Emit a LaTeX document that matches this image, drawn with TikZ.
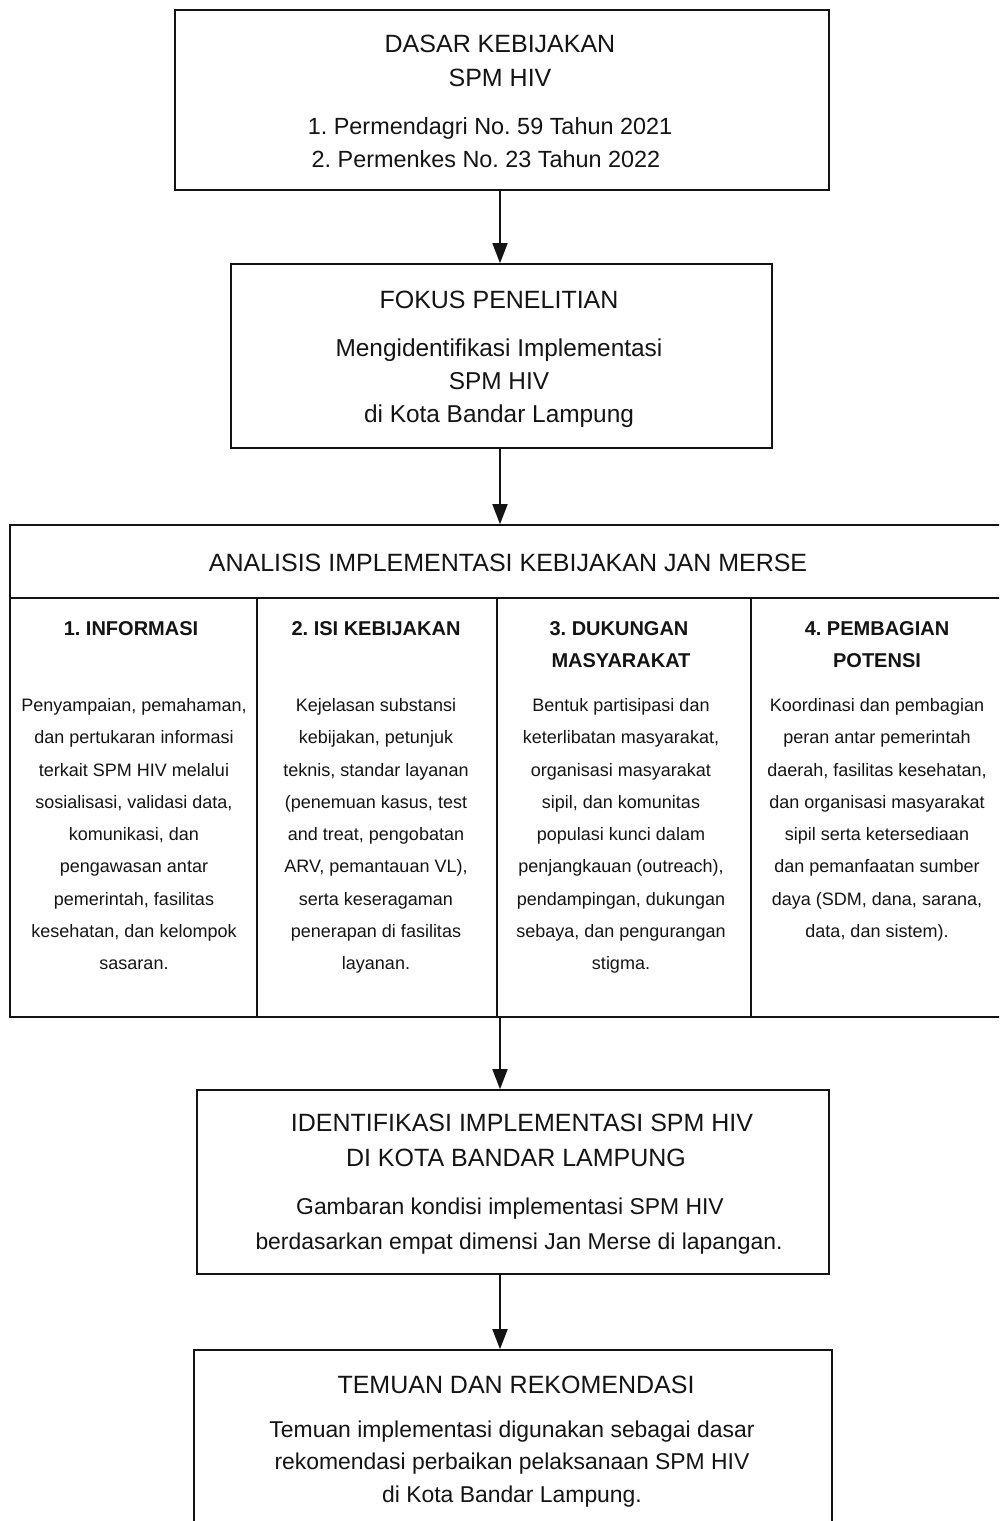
\documentclass[tikz,border=0pt]{standalone}
\usepackage{fontspec}
\setmainfont{Liberation Sans}
\frenchspacing
\usetikzlibrary{arrows.meta,calc}
\definecolor{ink}{HTML}{141414}
\tikzset{
  box/.style={draw=ink,line width=1.6pt,inner sep=0pt,rectangle},
  arr/.style={draw=ink,line width=1.6pt,-{Triangle[length=20pt,width=15pt]}},
  ttl/.style={anchor=base,inner sep=0pt,text=ink,font=\fontsize{25}{30}\selectfont},
  bod/.style={anchor=base,inner sep=0pt,text=ink,font=\fontsize{23.4}{29}\selectfont},
  bodb/.style={bod,font=\fontsize{24.4}{29}\selectfont},
  bodc/.style={bod,font=\fontsize{22.9}{29}\selectfont},
  hd/.style={anchor=base,inner sep=0pt,text=ink,font=\fontsize{20}{24}\selectfont\bfseries},
  col/.style={anchor=base,inner sep=0pt,text=ink,font=\fontsize{18}{22}\selectfont},
}
\begin{document}
\begin{tikzpicture}[x=1pt,y=-1pt]
\useasboundingbox (0,0) rectangle (999,1521);
\clip (0,0) rectangle (999,1521);
\fill[white] (0,0) rectangle (999,1521);
\coordinate (ax) at (500,0);
% Box 1
\node[box,minimum width=654pt,minimum height=180pt] (b1) at (502,100) {};
\node[ttl] (b1t1) at (500,52) {DASAR KEBIJAKAN};
\node[ttl] (b1t2) at (500,86) {SPM HIV};
\node[bod] (b1l1) at (490,134) {1. Permendagri No. 59 Tahun 2021};
\node[bod] (b1l2) at (486,167) {2. Permenkes No. 23 Tahun 2022};
% Box 2
\node[box,minimum width=541pt,minimum height=184pt] (b2) at (501.5,356) {};
\node[ttl] (b2t1) at (499,308) {FOKUS PENELITIAN};
\node[bodb] (b2l1) at (499,356) {Mengidentifikasi Implementasi};
\node[bodb] (b2l2) at (499,389) {SPM HIV};
\node[bodb] (b2l3) at (499,422) {di Kota Bandar Lampung};
% Analysis box
\node[box,minimum width=995pt,minimum height=492pt] (an) at (507.5,771) {};
\node[ttl] (ant) at (508,571) {ANALISIS IMPLEMENTASI KEBIJAKAN JAN MERSE};
\draw[draw=ink,line width=1.6pt] (10,598) -- (1005,598);
\draw[draw=ink,line width=1.6pt] (257,598) -- (257,1017);
\draw[draw=ink,line width=1.6pt] (497,598) -- (497,1017);
\draw[draw=ink,line width=1.6pt] (751,598) -- (751,1017);
\node[hd] (h1) at (131,635) {1. INFORMASI};
\node[hd] (h2) at (376,635) {2. ISI KEBIJAKAN};
\node[hd] (h3a) at (619,635) {3. DUKUNGAN};
\node[hd] (h3b) at (621,667) {MASYARAKAT};
\node[hd] (h4a) at (877,635) {4. PEMBAGIAN};
\node[hd] (h4b) at (877,667) {POTENSI};
\foreach \t [count=\i] in {{Penyampaian, pemahaman,},{dan pertukaran informasi},{terkait SPM HIV melalui},{sosialisasi, validasi data,},{komunikasi, dan},{pengawasan antar},{pemerintah, fasilitas},{kesehatan, dan kelompok},{sasaran.}}
  \node[col] (c1-\i) at (134,{711.5+32.25*(\i-1)}) {\t};
\foreach \t [count=\i] in {{Kejelasan substansi},{kebijakan, petunjuk},{teknis, standar layanan},{(penemuan kasus, test},{and treat, pengobatan},{ARV, pemantauan VL),},{serta keseragaman},{penerapan di fasilitas},{layanan.}}
  \node[col] (c2-\i) at (376,{711.5+32.25*(\i-1)}) {\t};
\foreach \t [count=\i] in {{Bentuk partisipasi dan},{keterlibatan masyarakat,},{organisasi masyarakat},{sipil, dan komunitas},{populasi kunci dalam},{penjangkauan (outreach),},{pendampingan, dukungan},{sebaya, dan pengurangan},{stigma.}}
  \node[col] (c3-\i) at (621,{711.5+32.25*(\i-1)}) {\t};
\foreach \t [count=\i] in {{Koordinasi dan pembagian},{peran antar pemerintah},{daerah, fasilitas kesehatan,},{dan organisasi masyarakat},{sipil serta ketersediaan},{dan pemanfaatan sumber},{daya (SDM, dana, sarana,},{data, dan sistem).}}
  \node[col] (c4-\i) at (877,{711.5+32.25*(\i-1)}) {\t};
% Box 4
\node[box,minimum width=632pt,minimum height=184pt] (b4) at (513,1182) {};
\node[ttl] (b4t1) at (522,1131) {IDENTIFIKASI IMPLEMENTASI SPM HIV};
\node[ttl] (b4t2) at (516,1166) {DI KOTA BANDAR LAMPUNG};
\node[bodc] (b4l1) at (510,1214) {Gambaran kondisi implementasi SPM HIV};
\node[bodc] (b4l2) at (519,1249) {berdasarkan empat dimensi Jan Merse di lapangan.};
% Box 5
\node[box,minimum width=638pt,minimum height=200pt] (b5) at (513,1450) {};
\node[ttl] (b5t1) at (516,1393) {TEMUAN DAN REKOMENDASI};
\node[bodc] (b5l1) at (512,1437) {Temuan implementasi digunakan sebagai dasar};
\node[bodc] (b5l2) at (512,1469) {rekomendasi perbaikan pelaksanaan SPM HIV};
\node[bodc] (b5l3) at (512,1502) {di Kota Bandar Lampung.};
% Arrows
\draw[arr] (b1.south -| ax) -- (b2.north -| ax);
\draw[arr] (b2.south -| ax) -- (an.north -| ax);
\draw[arr] (an.south -| ax) -- (b4.north -| ax);
\draw[arr] (b4.south -| ax) -- (b5.north -| ax);
\end{tikzpicture}
\end{document}
